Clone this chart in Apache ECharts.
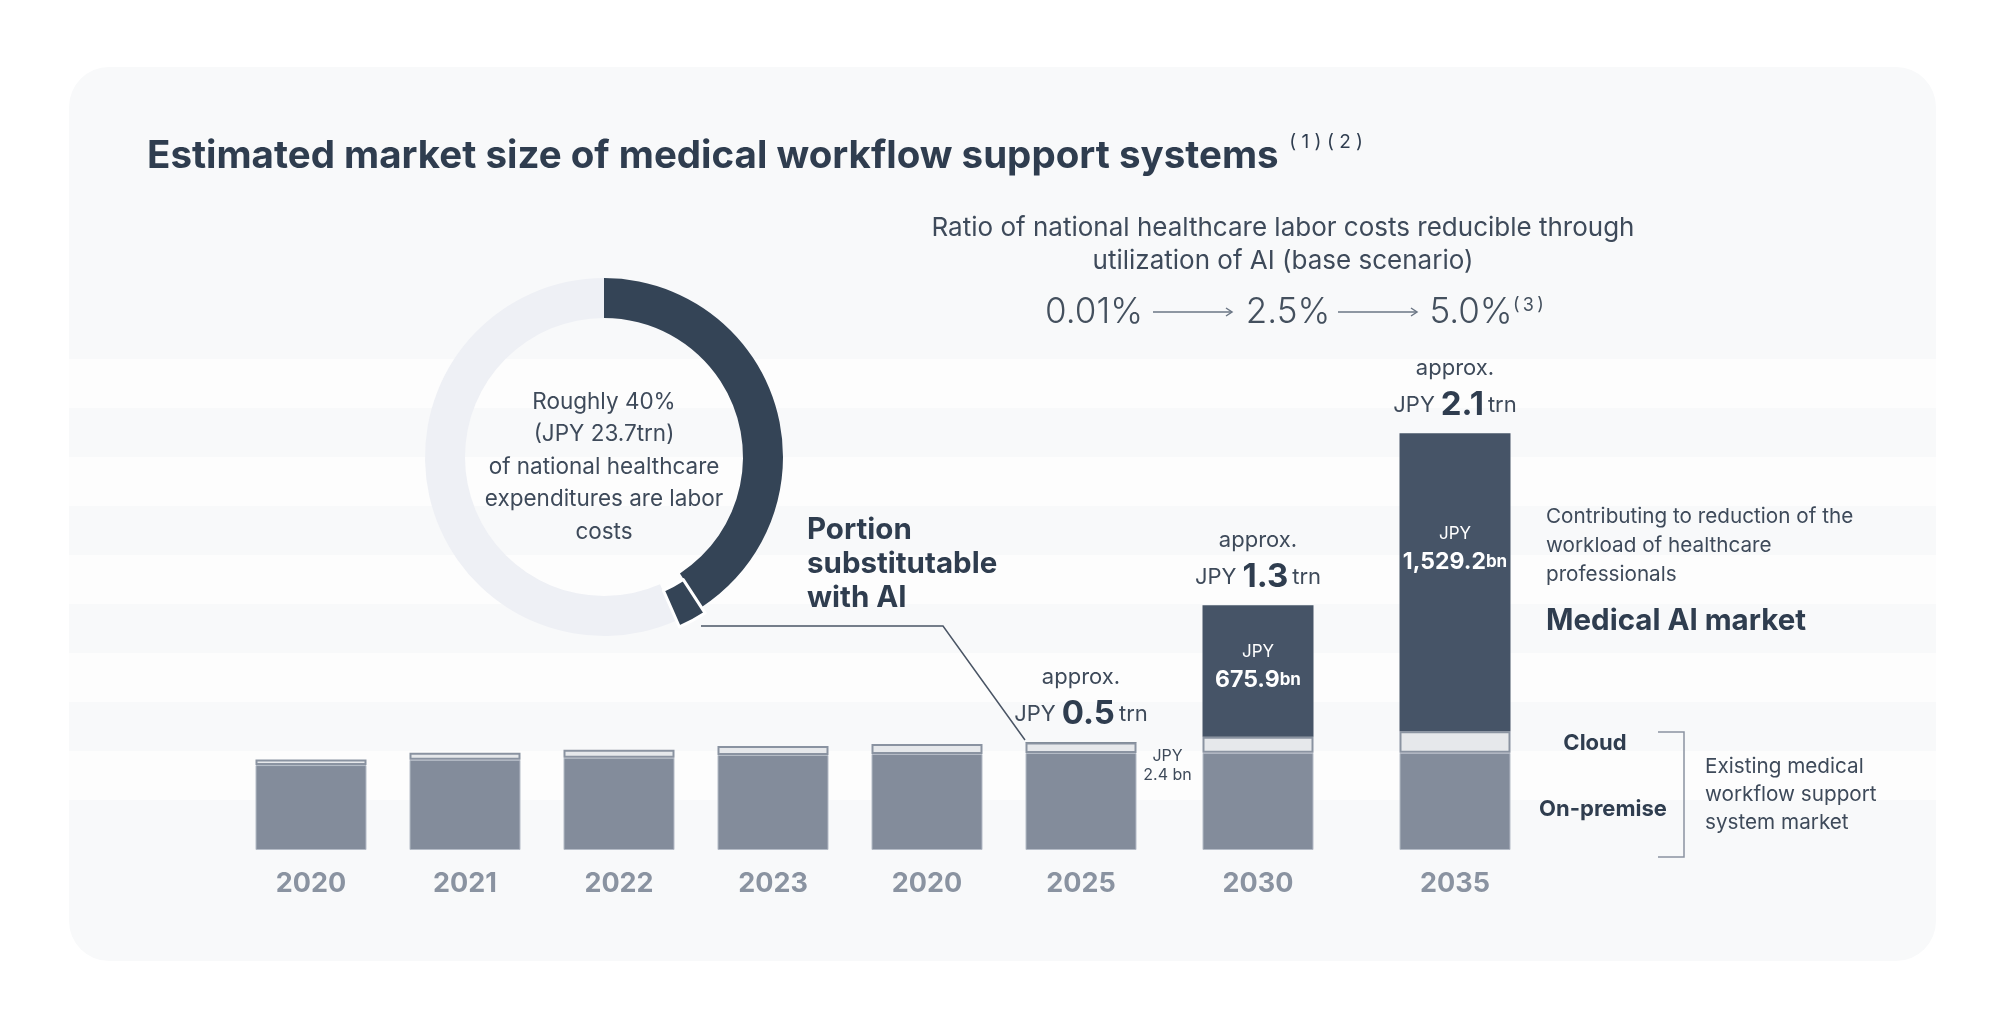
<!DOCTYPE html>
<html>
<head>
<meta charset="utf-8">
<script src="https://cdn.jsdelivr.net/npm/echarts@6/dist/echarts.min.js"></script>
<style>
  html, body { margin: 0; padding: 0; background: #ffffff; }
  #chart { width: 1999px; height: 1010px; }
</style>
</head>
<body>
<div id="chart"></div>
<script>
// market size, JPY bn
const years = ['2020', '2021', '2022', '2023', '2020', '2025', '2030', '2035'];
const onPremise = [436, 463, 474, 488, 493, 498, 499, 499];
const cloud = [29, 36, 40, 46, 51, 54, 82, 111];
const medicalAI = [0, 0, 0, 0, 0, 2.4, 675.9, 1529.2];
const totalTrn = [null, null, null, null, null, 0.5, 1.3, 2.1];

// share of national healthcare expenditures (%)
const donutNames = ['Labor costs', 'Portion substitutable with AI', 'Other expenditures'];
const donutValues = [40.8, 2.6, 56.6];

const ratioSteps = ['0.01%', '2.5%', '5.0%'];

const FONT = 'Inter';
const DARK = '#2f3d4f';
const TEXT = '#3e4a5a';
const SPLIT = 6; // first grid: 2020 .. 2025, second grid: 2030, 2035
const TS = '\u2009'; // thin space for the footnote marks

const chart = echarts.init(document.getElementById('chart'));

function fmtBn(v) {
  return v.toLocaleString('en-US', { minimumFractionDigits: 1, maximumFractionDigits: 1 });
}

// where the inside labels of the AI segment sit (px shift from segment centre)
const insideShift = { 6: -5, 7: -34 };

function barSeries(g, from, to) {
  const stack = 'm' + g;
  const base = { type: 'bar', xAxisIndex: g, yAxisIndex: g, stack: stack, barWidth: 111, silent: true };
  return [
    Object.assign({}, base, {
      name: 'On-premise',
      data: onPremise.slice(from, to),
      itemStyle: { color: '#838c9b', borderColor: '#b4bbc6', borderWidth: 1 }
    }),
    Object.assign({}, base, {
      name: 'Cloud',
      data: cloud.slice(from, to),
      itemStyle: { color: '#e6e8eb', borderColor: '#8a93a1', borderWidth: 2 }
    }),
    Object.assign({}, base, {
      name: 'Medical AI',
      itemStyle: { color: '#465467' },
      data: medicalAI.slice(from, to).map(function (v, k) {
        const i = from + k;
        if (v > 100) {
          return {
            value: v,
            label: {
              show: true, position: 'inside', offset: [0, insideShift[i] || 0],
              formatter: '{j|JPY}\n{v|' + fmtBn(v) + '}{u|bn}',
              rich: {
                j: { fontFamily: FONT, fontSize: 17, color: '#ffffff', lineHeight: 28 },
                v: { fontFamily: FONT, fontSize: 23, fontWeight: 'bold', color: '#ffffff', lineHeight: 28 },
                u: { fontFamily: FONT, fontSize: 17, fontWeight: 'bold', color: '#ffffff', lineHeight: 28 }
              }
            }
          };
        }
        if (v > 0) {
          return {
            value: v,
            label: {
              show: true, position: 'right', align: 'center', offset: [26, 23],
              formatter: '{s|JPY}\n{s|' + v + ' bn}',
              rich: { s: { fontFamily: FONT, fontSize: 16, color: TEXT, lineHeight: 19 } }
            }
          };
        }
        return v;
      })
    }),
    Object.assign({}, base, {
      name: 'Total',
      itemStyle: { color: 'rgba(0,0,0,0)' },
      data: totalTrn.slice(from, to).map(function (t) {
        if (t === null) return '-';
        return {
          value: 0,
          label: {
            show: true, position: 'top', distance: 9,
            formatter: '{a|approx.}\n{j|JPY}{b|' + t.toFixed(1) + '}{j|trn}',
            rich: {
              a: { fontFamily: FONT, fontSize: 22, color: TEXT, lineHeight: 36 },
              j: { fontFamily: FONT, fontSize: 22, color: TEXT, lineHeight: 38 },
              b: { fontFamily: FONT, fontSize: 33, fontWeight: 'bold', color: DARK, lineHeight: 38, padding: [0, 4, 0, 6] }
            }
          }
        };
      })
    })
  ];
}

const axisX = function (g, from, to) {
  return {
    type: 'category', gridIndex: g, data: years.slice(from, to),
    axisLine: { show: false }, axisTick: { show: false },
    axisLabel: { margin: 20, fontFamily: FONT, fontSize: 27, fontWeight: 'bold', color: '#8a93a1' }
  };
};
const axisY = function (g) {
  return { type: 'value', gridIndex: g, min: 0, max: 2500, show: false, splitLine: { show: false } };
};

// background panel with faint stripes
const bg = [{
  type: 'rect', z: -10, silent: true,
  shape: { x: 69, y: 67, width: 1867, height: 894, r: 40 },
  style: { fill: '#f8f9fa' }
}];
for (let k = 0; k < 5; k++) {
  bg.push({
    type: 'rect', z: -9, silent: true,
    shape: { x: 69, y: 359 + k * 98, width: 1867, height: 49 },
    style: { fill: '#fdfdfd' }
  });
}

function txt(x, y, text, size, opts) {
  return {
    type: 'text', silent: true, z: 10,
    style: Object.assign({
      x: x, y: y, text: text, fontFamily: FONT, fontSize: size, fill: TEXT,
      align: 'left', verticalAlign: 'middle'
    }, opts || {})
  };
}

function arrow(x1, x2, y) {
  return [
    { type: 'line', silent: true, z: 10, shape: { x1: x1, y1: y, x2: x2, y2: y }, style: { stroke: '#6b7685', lineWidth: 1.5 } },
    { type: 'polyline', silent: true, z: 10, shape: { points: [[x2 - 6, y - 4], [x2, y], [x2 - 6, y + 4]] }, style: { stroke: '#6b7685', lineWidth: 1.5, fill: null } }
  ];
}

const notes = [
  txt(147, 156, '{t|Estimated market size of medical workflow support systems}{s|  ( 1 ) ( 2 )}', 38, {
    rich: {
      t: { fontFamily: FONT, fontSize: 38.5, fontWeight: 'bold', fill: DARK, lineHeight: 46 },
      s: { fontFamily: FONT, fontSize: 19, fill: DARK, lineHeight: 28, verticalAlign: 'top' }
    }
  }),
  txt(1283, 245, 'Ratio of national healthcare labor costs reducible through\nutilization of AI (base scenario)', 26, {
    align: 'center', lineHeight: 33
  }),
  txt(1094, 312, ratioSteps[0], 35, { align: 'center', fontWeight: 300, fill: '#44505e' }),
  txt(1288, 312, ratioSteps[1], 35, { align: 'center', fontWeight: 300, fill: '#44505e' }),
  txt(1471, 312, ratioSteps[2], 35, { align: 'center', fontWeight: 300, fill: '#44505e' }),
  txt(1513, 306, '(' + TS + '3' + TS + ')', 18, { fill: '#44505e' }),
  txt(604, 467, 'Roughly 40%\n(JPY 23.7trn)\nof national healthcare\nexpenditures are labor\ncosts', 22.5, {
    align: 'center', lineHeight: 32.5
  }),
  txt(807, 564, 'Portion\nsubstitutable\nwith AI', 29.5, { fontWeight: 'bold', fill: DARK, lineHeight: 34 }),
  txt(1546, 546, 'Contributing to reduction of the\nworkload of healthcare\nprofessionals', 20.7, { lineHeight: 29 }),
  txt(1546, 621, 'Medical AI market', 29.5, { fontWeight: 'bold', fill: DARK }),
  txt(1595, 743, 'Cloud', 22, { fontWeight: 'bold', fill: DARK, align: 'center' }),
  txt(1603, 809, 'On-premise', 22, { fontWeight: 'bold', fill: DARK, align: 'center' }),
  txt(1705, 795, 'Existing medical\nworkflow support\nsystem market', 20.7, { lineHeight: 28 }),
  {
    type: 'polyline', silent: true, z: 10,
    shape: { points: [[1658, 732], [1684, 732], [1684, 857], [1658, 857]] },
    style: { stroke: '#8a93a1', lineWidth: 1.5, fill: null }
  }
].concat(arrow(1153, 1232, 312), arrow(1338, 1417, 312));

const option = {
  animation: false,
  textStyle: { fontFamily: FONT },
  grid: [
    { left: 234, width: 924, top: 363, bottom: 160 },
    { left: 1159.5, width: 394, top: 363, bottom: 160 }
  ],
  xAxis: [axisX(0, 0, SPLIT), axisX(1, SPLIT, years.length)],
  yAxis: [axisY(0), axisY(1)],
  series: [].concat(barSeries(0, 0, SPLIT), barSeries(1, SPLIT, years.length), [{
    type: 'pie',
    center: [604, 457],
    radius: [139, 179],
    startAngle: 90,
    clockwise: true,
    selectedMode: 'single',
    selectedOffset: 7,
    silent: true,
    label: { show: false },
    labelLine: { show: false },
    data: donutNames.map(function (n, i) {
      const item = { name: n, value: donutValues[i] };
      if (i === 0) item.itemStyle = { color: '#344456' };
      if (i === 1) {
        item.selected = true;
        item.itemStyle = { color: '#344456', borderColor: '#ffffff', borderWidth: 3 };
      }
      if (i === 2) item.itemStyle = { color: '#eef0f5' };
      return item;
    })
  }]),
  graphic: bg.concat(notes)
};

chart.setOption(option);

// leader line from the AI slice to the top-left corner of the 2025 bar
const i25 = years.indexOf('2025');
const top25 = onPremise[i25] + cloud[i25] + medicalAI[i25];
const p = chart.convertToPixel({ xAxisIndex: 0, yAxisIndex: 0 }, [i25, top25]);
chart.setOption({
  graphic: bg.concat(notes, [{
    type: 'polyline', silent: true, z: 10,
    shape: { points: [[701, 626], [943, 626], [p[0] - 56, p[1] - 2]] },
    style: { stroke: '#4a5565', lineWidth: 1.5, fill: null }
  }])
});
</script>
</body>
</html>
